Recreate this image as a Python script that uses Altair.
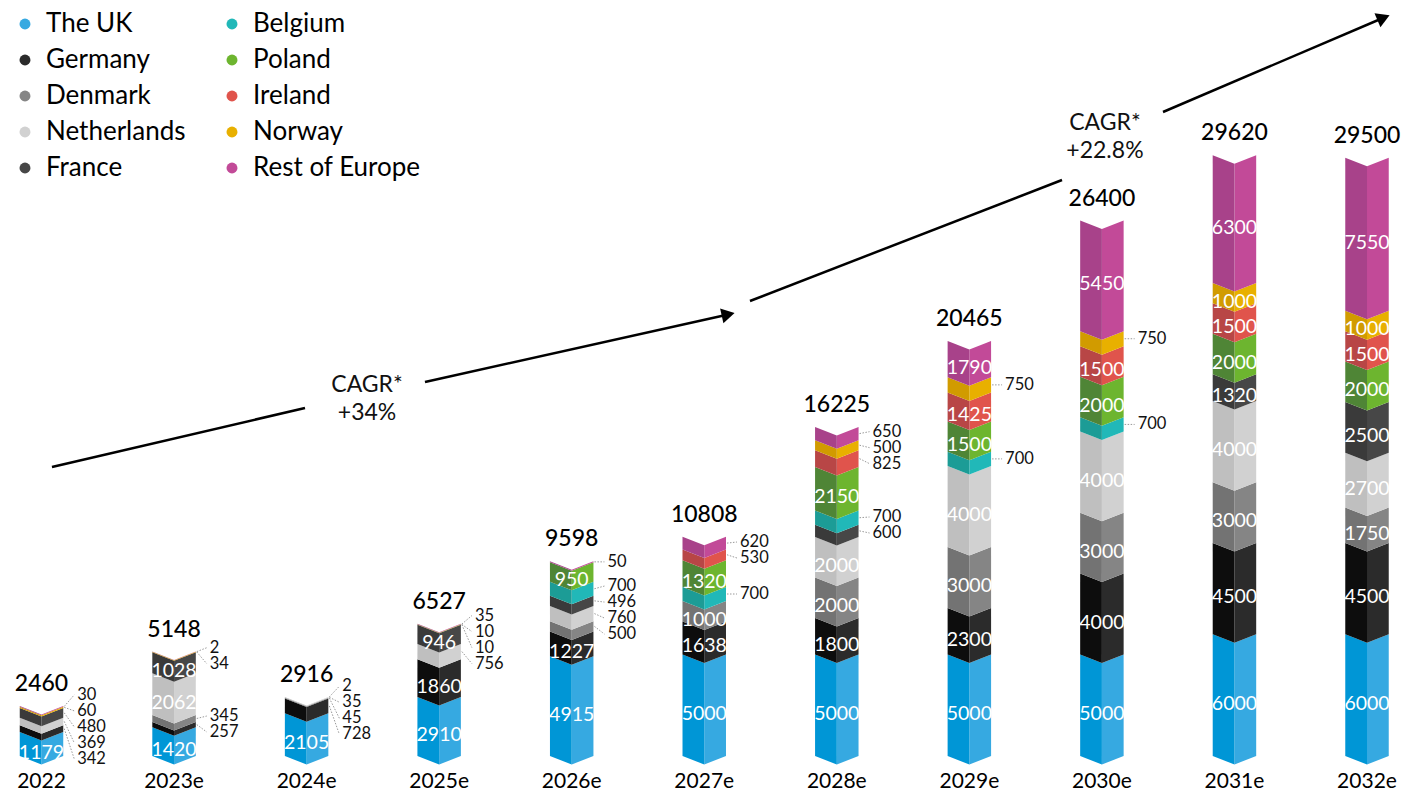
import math
import altair as alt
import pandas as pd

FONT = "Lato"

years = ["2022", "2023e", "2024e", "2025e", "2026e", "2027e", "2028e", "2029e", "2030e", "2031e", "2032e"]
countries = ["The UK", "Germany", "Denmark", "Netherlands", "France",
             "Belgium", "Poland", "Ireland", "Norway", "Rest of Europe"]

uk          = [1179, 1420, 2105, 2910, 4915, 5000, 5000, 5000, 5000, 6000, 6000]
germany     = [342,  257,  728,  1860, 1227, 1638, 1800, 2300, 4000, 4500, 4500]
denmark     = [0,    345,  45,   0,    500,  1000, 2000, 3000, 3000, 3000, 1750]
netherlands = [369,  2062, 35,   756,  760,  0,    2000, 4000, 4000, 4000, 2700]
france      = [480,  1028, 2,    946,  496,  0,    600,  0,    0,    1320, 2500]
belgium     = [0,    0,    0,    0,    700,  700,  700,  700,  700,  0,    0]
poland      = [0,    0,    0,    10,   950,  1320, 2150, 1500, 2000, 2000, 2000]
ireland     = [0,    0,    0,    0,    0,    530,  825,  1425, 1500, 1500, 1500]
norway      = [60,   34,   0,    10,   0,    0,    500,  750,  750,  1000, 1000]
rest        = [30,   2,    0,    35,   50,   620,  650,  1790, 5450, 6300, 7550]
totals      = [2460, 5148, 2916, 6527, 9598, 10808, 16225, 20465, 26400, 29620, 29500]

series = [uk, germany, denmark, netherlands, france, belgium, poland, ireland, norway, rest]

light_colors = ["#36a9e1", "#2b2b2b", "#858585", "#d1d1d1", "#474747",
                "#21b8b8", "#6db52f", "#e0544c", "#e8b000", "#c24a98"]
dark_colors = ["#0096d6", "#0d0d0d", "#737373", "#bfbfbf", "#3a3a3a",
               "#1c9c96", "#4f8536", "#b84646", "#d19b00", "#a8428a"]

# CAGR annotations (x in year-index units, y in MW)
cagr_text = ["CAGR*\n+34%", "CAGR*\n+22.8%"]
cagr_text_x = [2.456, 8.023]
cagr_text_y = [17604, 30523]
arrow_start_x = [0.079, 5.345]
arrow_start_y = [14251, 22436]
arrow_gap_a_x = [1.988, 7.699]
arrow_gap_a_y = [17160, 28403]
arrow_gap_b_x = [2.893, 8.461]
arrow_gap_b_y = [18442, 31756]
arrow_tip_x = [5.232, 10.173]
arrow_tip_y = [21845, 36539]

# ---- layout / style constants ----
W, H = 1394, 783
XMIN, XMAX = -0.2527, 10.264
PXY = 0.02028                    # px per MW
YMAX = 748 / PXY
YMIN = YMAX - H / PXY
HW = 0.164                       # half bar width (index units)
PXX = W / (XMAX - XMIN)          # px per index unit
D = 8.5 / PXY                    # chevron depth
GAP = 16 / PXY                   # min spacing for outside labels
INSIDE_MIN = 900

def spread(desired, gap):
    n = len(desired)
    greedy = []
    for d in desired:
        greedy.append(d if not greedy else min(d, greedy[-1] - gap))
    clusters = [[j] for j in range(n)]

    def pos(cl):
        c = sum(desired[j] for j in cl) / len(cl)
        m = len(cl)
        return [c + gap * (m - 1) / 2 - gap * k for k in range(m)]

    merged = True
    while merged:
        merged = False
        for a in range(len(clusters) - 1):
            pa, pb = pos(clusters[a]), pos(clusters[a + 1])
            if pa[-1] - pb[0] < gap - 1e-9:
                clusters[a] = clusters[a] + clusters[a + 1]
                del clusters[a + 1]
                merged = True
                break
    centered = [p for cl in clusters for p in pos(cl)]
    return [(g + c) / 2 for g, c in zip(greedy, centered)]

area_rows, inside_rows, out_rows, lead_rows = [], [], [], []
for i, yr in enumerate(years):
    cum = 0
    outs = []
    for ci, (c, vals) in enumerate(zip(countries, series)):
        v = vals[i]
        if v <= 0:
            continue
        b, t = cum, cum + v
        cum = t
        seg = f"{i}-{ci}"
        for x, y0, y1 in [(i - HW, b, t), (i, b - D, t - D)]:
            area_rows.append(dict(seg=seg + "L", half="L", country=c, hex=dark_colors[ci], x=x, y0=y0, y1=y1))
        for x, y0, y1 in [(i, b - D, t - D), (i + HW, b, t)]:
            area_rows.append(dict(seg=seg + "R", half="R", country=c, hex=light_colors[ci], x=x, y0=y0, y1=y1))
        mid = (b + t) / 2
        if v >= INSIDE_MIN:
            inside_rows.append(dict(x=i, y=mid - D, text=str(v)))
        else:
            outs.append((mid, v))
    outs = outs[::-1]  # top to bottom
    if outs:
        ys = spread([m for m, _ in outs], GAP)
        for (m, v), ly in zip(outs, ys):
            out_rows.append(dict(x=i + HW + 14 / PXX, y=ly, text=str(v)))
            lead_rows.append(dict(x=i + HW + 1 / PXX, y=m, x2=i + HW + 11 / PXX, y2=ly))

areas = pd.DataFrame(area_rows)
inside = pd.DataFrame(inside_rows)
outside = pd.DataFrame(out_rows)
leads = pd.DataFrame(lead_rows)
tot = pd.DataFrame(dict(x=list(range(len(years))), y=totals, text=[str(t) for t in totals]))
yrs = pd.DataFrame(dict(x=list(range(len(years))), y=[0] * len(years), text=years))

# arrows
seg_rows, head_rows, ann_rows = [], [], []
for k in range(len(cagr_text)):
    seg_rows.append(dict(x=arrow_start_x[k], y=arrow_start_y[k], x2=arrow_gap_a_x[k], y2=arrow_gap_a_y[k]))
    dxp = (arrow_tip_x[k] - arrow_gap_b_x[k]) * PXX
    dyp = (arrow_tip_y[k] - arrow_gap_b_y[k]) * PXY
    L = math.hypot(dxp, dyp)
    ux, uy = dxp / L, dyp / L
    back = 7
    hx = arrow_tip_x[k] - ux * back / PXX
    hy = arrow_tip_y[k] - uy * back / PXY
    seg_rows.append(dict(x=arrow_gap_b_x[k], y=arrow_gap_b_y[k], x2=hx, y2=hy))
    ang = (-math.degrees(math.atan2(dyp, dxp))) % 360
    head_rows.append(dict(x=hx, y=hy, angle=ang))
    ann_rows.append(dict(x=cagr_text_x[k], y=cagr_text_y[k], text=cagr_text[k]))
segs = pd.DataFrame(seg_rows)
heads = pd.DataFrame(head_rows)
anns = pd.DataFrame(ann_rows)

xs = alt.Scale(domain=[XMIN, XMAX], nice=False, zero=False)
ys_ = alt.Scale(domain=[YMIN, YMAX], nice=False, zero=False)
X = lambda f="x": alt.X(f"{f}:Q", scale=xs, axis=None)
Y = lambda f="y": alt.Y(f"{f}:Q", scale=ys_, axis=None, stack=None)

right = alt.Chart(areas[areas.half == "R"]).mark_area(orient="vertical").encode(
    x=X(), y=Y("y0"), y2="y1",
    color=alt.Color("country:N", scale=alt.Scale(domain=countries, range=light_colors),
                    legend=alt.Legend(orient="none", legendX=4, legendY=3, columns=2,
                                      symbolType="circle", symbolSize=120, labelFontSize=26,
                                      labelFont=FONT, title=None, rowPadding=10,
                                      columnPadding=33, labelOffset=8, labelColor="#000",
                                      labelLimit=400, symbolStrokeWidth=0)),
    detail="seg:N",
)
left = alt.Chart(areas[areas.half == "L"]).mark_area(orient="vertical").encode(
    x=X(), y=Y("y0"), y2="y1",
    fill=alt.Fill("hex:N", scale=None),
    detail="seg:N",
)

inside_t = alt.Chart(inside).mark_text(font=FONT, fontSize=19.5, color="white",
                                       baseline="middle", align="center").encode(
    x=X(), y=Y(), text="text:N")
outside_t = alt.Chart(outside).mark_text(font=FONT, fontSize=16.5, color="#111",
                                         baseline="middle", align="left").encode(
    x=X(), y=Y(), text="text:N")
lead_r = alt.Chart(leads).mark_rule(color="#999", strokeWidth=1, strokeDash=[1.5, 1.5]).encode(
    x=X(), y=Y(), x2="x2:Q", y2="y2:Q")
tot_t = alt.Chart(tot).mark_text(font=FONT, fontSize=23, fontWeight=500, color="#000",
                                 baseline="middle", align="center", dy=-22).encode(
    x=X(), y=Y(), text="text:N")
yr_t = alt.Chart(yrs).mark_text(font=FONT, fontSize=21, color="#000",
                                baseline="middle", align="center", dy=26).encode(
    x=X(), y=Y(), text="text:N")
seg_r = alt.Chart(segs).mark_rule(color="#000", strokeWidth=2.5).encode(
    x=X(), y=Y(), x2="x2:Q", y2="y2:Q")
head_p = alt.Chart(heads).mark_point(shape="triangle-right", filled=True, size=230,
                                     color="#000", opacity=1).encode(
    x=X(), y=Y(), angle=alt.Angle("angle:Q", scale=None))
ann_t = alt.Chart(anns).mark_text(font=FONT, fontSize=23, color="#111", lineBreak="\n",
                                  lineHeight=28, baseline="middle", align="center", dy=-14).encode(
    x=X(), y=Y(), text="text:N")

chart = alt.layer(right, left, lead_r, inside_t, outside_t, tot_t, yr_t, seg_r, head_p, ann_t).properties(
    width=W, height=H, padding=0, autosize=alt.AutoSizeParams(type="none")
).configure_view(stroke=None)

chart.save("out.html", embed_options={"renderer": "svg", "actions": False})
